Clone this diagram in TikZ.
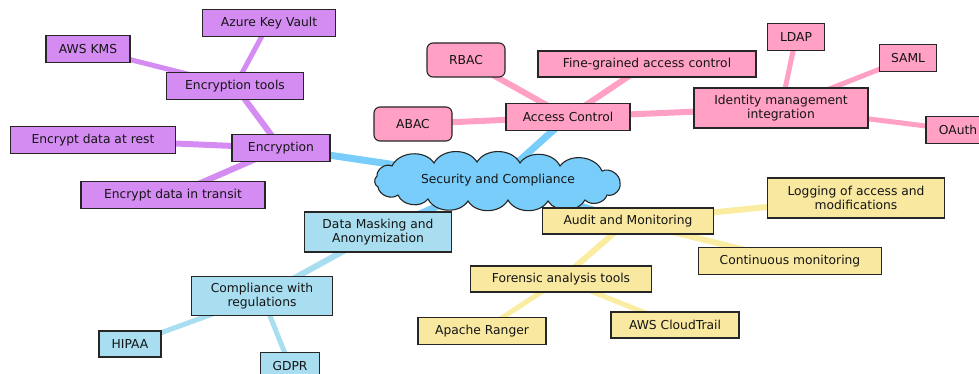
\documentclass[tikz,border=0pt]{standalone}
\usepackage{fontspec}
\setmainfont{DejaVu Sans}
\usetikzlibrary{backgrounds}
\definecolor{cblue}{RGB}{120,205,250}
\definecolor{cpurple}{RGB}{212,140,242}
\definecolor{cpink}{RGB}{255,160,196}
\definecolor{cyellow}{RGB}{248,232,160}
\definecolor{cyedge}{RGB}{250,236,160}
\definecolor{clblue}{RGB}{168,222,240}
\definecolor{ctext}{RGB}{20,20,20}
\tikzset{
  box/.style={draw=black!85, line width=1.1pt, inner sep=0pt, align=center, text=ctext,
    font=\fontsize{12.3}{14}\selectfont},
  sz/.style 2 args={minimum width=#1pt, minimum height=#2pt},
  pbox/.style={box, fill=cpurple},
  kbox/.style={box, fill=cpink},
  ybox/.style={box, fill=cyellow},
  lbox/.style={box, fill=clblue},
  lone/.style={line width=7pt, cblue},
  ltwo/.style={line width=6pt},
  lthree/.style={line width=5pt},
  puff/.style={bend left=60},
  cloudline/.style={draw=black!85, line width=1.1pt, fill=cblue},
}
\begin{document}
\begin{tikzpicture}[x=1pt,y=-1pt]
\useasboundingbox (0,0) rectangle (979,374);
\clip (0,0) rectangle (979,374);
% central cloud
\draw[cloudline] (377,176) to[puff] (392,166) to[puff] (434,163) to[puff] (477,162)
  to[puff] (520,163) to[puff] (560,166) to[puff] (602,171)
  to[puff] (620,183) to[puff] (607,195) to[puff] (585,200) to[puff] (548,201)
  to[puff] (508,200) to[puff] (468,201) to[puff] (428,199) to[puff] (398,195)
  to[puff] (378,187) to[puff] cycle;
\node[inner sep=0pt, text=ctext, font=\fontsize{12.3}{14}\selectfont] (root) at (498,180) {Security and Compliance};
% encryption branch
\node[pbox, sz={98}{27}] (enc) at (281,148) {Encryption};
\node[pbox, sz={137}{27}] (enctools) at (235,86) {Encryption tools};
\node[pbox, sz={133}{27}] (azure) at (269,23) {Azure Key Vault};
\node[pbox, sz={84}{27}] (kms) at (88,49) {AWS KMS};
\node[pbox, sz={165}{27}] (rest) at (93,140) {Encrypt data at rest};
\node[pbox, sz={184}{27}] (transit) at (173,195) {Encrypt data in transit};
% access control branch
\node[kbox, sz={124}{27}] (access) at (568,117) {Access Control};
\node[kbox, sz={78}{34}, rounded corners=6pt] (rbac) at (466,60) {RBAC};
\node[kbox, sz={78}{34}, rounded corners=6pt] (abac) at (413,124) {ABAC};
\node[kbox, sz={218}{26}] (fine) at (647,64) {Fine-grained access control};
\node[kbox, sz={174}{40}] (ident) at (781,108) {Identity management\\integration};
\node[kbox, sz={57}{27}] (ldap) at (796,37) {LDAP};
\node[kbox, sz={57}{27}] (saml) at (908,58) {SAML};
\node[kbox, sz={64}{27}] (oauth) at (958,130) {OAuth};
% audit branch
\node[ybox, sz={171}{26}] (audit) at (628,221) {Audit and Monitoring};
\node[ybox, sz={177}{40}] (logging) at (856,198) {Logging of access and\\modifications};
\node[ybox, sz={183}{27}] (cont) at (790,261) {Continuous monitoring};
\node[ybox, sz={181}{26}] (forensic) at (561,279) {Forensic analysis tools};
\node[ybox, sz={128}{27}] (apache) at (482,331) {Apache Ranger};
\node[ybox, sz={128}{26}] (trail) at (675,325) {AWS CloudTrail};
% data masking branch
\node[lbox, sz={147}{40}] (masking) at (378,232) {Data Masking and\\Anonymization};
\node[lbox, sz={141}{39}] (compl) at (262,296) {Compliance with\\regulations};
\node[lbox, sz={62}{26}] (hipaa) at (130,344) {HIPAA};
\node[lbox, sz={59}{27}] (gdpr) at (290,366) {GDPR};
\begin{pgfonlayer}{background}
  \draw[lone] (root.center) -- (enc.center);
  \draw[lone] (root.center) -- (access.center);
  \draw[lone] (root.center) -- (masking.center);
  \draw[lone] (root.center) -- (audit.center);
  \draw[ltwo, cpurple] (enc.center) -- (enctools.center);
  \draw[ltwo, cpurple] (enc.center) -- (rest.center);
  \draw[ltwo, cpurple] (enc.center) -- (transit.center);
  \draw[lthree, cpurple] (enctools.center) -- (azure.center);
  \draw[lthree, cpurple] (enctools.center) -- (kms.center);
  \draw[ltwo, cpink] (access.center) -- (rbac.center);
  \draw[ltwo, cpink] (access.center) -- (abac.center);
  \draw[ltwo, cpink] (access.center) -- (fine.center);
  \draw[ltwo, cpink] (access.center) -- (ident.center);
  \draw[lthree, cpink] (ident.center) -- (ldap.center);
  \draw[lthree, cpink] (ident.center) -- (saml.center);
  \draw[lthree, cpink] (ident.center) -- (oauth.center);
  \draw[ltwo, cyedge] (audit.center) -- (logging.center);
  \draw[ltwo, cyedge] (audit.center) -- (cont.center);
  \draw[ltwo, cyedge] (audit.center) -- (forensic.center);
  \draw[lthree, cyedge] (forensic.center) -- (apache.center);
  \draw[lthree, cyedge] (forensic.center) -- (trail.center);
  \draw[ltwo, clblue] (masking.center) -- (compl.center);
  \draw[lthree, clblue] (compl.center) -- (hipaa.center);
  \draw[lthree, clblue] (compl.center) -- (gdpr.center);
\end{pgfonlayer}
\end{tikzpicture}
\end{document}
